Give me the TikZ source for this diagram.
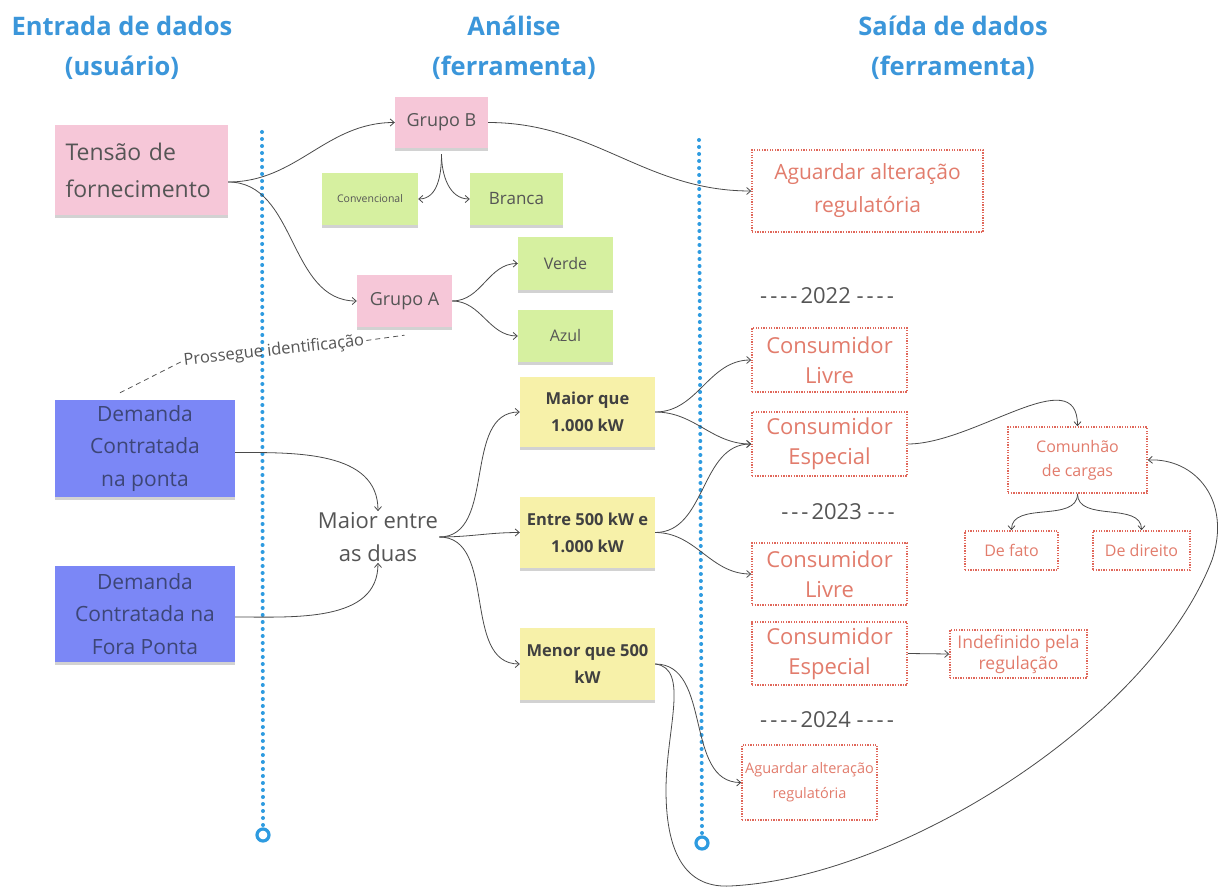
\documentclass[tikz,border=0pt]{standalone}
\usepackage{fontspec}
\setmainfont{Open Sans}
\usetikzlibrary{arrows.meta,shadows}
\definecolor{hdr}{HTML}{3B96DA}
\definecolor{pinkn}{HTML}{F6C7D8}
\definecolor{greenn}{HTML}{D6F0A0}
\definecolor{yellown}{HTML}{F7F1A9}
\definecolor{bluen}{HTML}{7B87F6}
\definecolor{redb}{HTML}{E0675A}
\definecolor{redt}{HTML}{E27C6C}
\definecolor{ink}{HTML}{555555}
\definecolor{bluet}{HTML}{3D4677}
\definecolor{axisc}{HTML}{2E9BE0}
\definecolor{wirec}{HTML}{4A4A4A}
\newcommand\fs[2]{\fontsize{#1}{#2}\selectfont}
\newcommand\hy{\mbox{-}\hspace{3pt}}
\begin{document}
\begin{tikzpicture}[x=1pt,y=-1pt,
  sz/.style 2 args={minimum width=#1pt,minimum height=#2pt},
  note/.style={inner sep=2pt, align=center,
    drop shadow={shadow xshift=0pt, shadow yshift=-3pt, opacity=0.35}},
  pinknote/.style={note, fill=pinkn, text=ink},
  greennote/.style={note, fill=greenn, text=ink},
  yellownote/.style={note, fill=yellown, text=black!75, font=\bfseries\fs{16.5}{27}},
  bluenote/.style={note, fill=bluen, text=bluet, font=\fs{21}{32.5}},
  outbox/.style={draw=redb, line width=1.6pt, dash pattern=on 1.3pt off 1.3pt,
    text=redt, align=center, inner sep=2pt},
  wire/.style={draw=wirec, line width=0.8pt, -{Straight Barb[length=4pt,width=7pt]}},
  axisline/.style={draw=axisc, line width=4pt, line cap=round, dash pattern=on 0pt off 7pt},
  axisend/.style={circle, draw=axisc, line width=3.2pt, fill=white, minimum size=12pt, inner sep=0pt},
  heading/.style={text=hdr, font=\bfseries\fs{25.5}{40}, align=center},
  year/.style={text=ink, font=\fs{22}{26}},
]
\useasboundingbox[fill=white] (0,0) rectangle (1223,890);

% column headings
\node[heading] (h1) at (122,48) {Entrada de dados\\(usuário)};
\node[heading] (h2) at (514,48) {Análise\\(ferramenta)};
\node[heading] (h3) at (953,48) {Saída de dados\\(ferramenta)};

% column separators
\node[axisend] (endL) at (263,835) {};
\node[axisend] (endR) at (702,843) {};
\draw[axisline] (262,132) -- (endL.north);
\draw[axisline] (699,140) -- (endR.north);

% input notes
\node[pinknote, sz={173}{90}, font=\fs{23}{37}, align=left, text width=152pt] (tensao) at (141.5,170) {Tensão de\\fornecimento};
\node[bluenote, sz={180}{97}] (dp) at (145,448.5) {Demanda\\Contratada\\na ponta};
\node[bluenote, sz={180}{96}] (df) at (145,614) {Demanda\\Contratada na\\Fora Ponta};

% analysis notes
\node[pinknote, sz={93}{51}, font=\fs{18}{22}] (gb) at (441.5,122.5) {Grupo B};
\node[greennote, sz={96}{52}, font=\fs{10.5}{12}] (conv) at (370,199) {Convencional};
\node[greennote, sz={93}{52}, font=\fs{17}{20}] (branca) at (516.5,199) {Branca};
\node[pinknote, sz={95}{52}, font=\fs{18}{22}] (ga) at (404.5,301) {Grupo A};
\node[greennote, sz={95}{53}, font=\fs{16}{20}] (verde) at (565.5,263.5) {Verde};
\node[greennote, sz={95}{52}, font=\fs{16}{20}] (azul) at (565.5,336) {Azul};
\node[yellownote, sz={135}{70}] (mq) at (587.5,412) {Maior que\\1.000 kW};
\node[yellownote, sz={135}{71}] (en) at (587.5,532.5) {Entre 500 kW e\\1.000 kW};
\node[yellownote, sz={135}{72}] (mn) at (587.5,664) {Menor que 500\\kW};
\node[text=ink, font=\fs{22}{33}, align=center, inner sep=1pt] (me) at (378,537) {Maior entre\\as duas};
\node[text=ink, font=\fs{16.5}{18}, rotate=6.5, inner sep=2pt] (pros) at (274,351) {Prossegue identificação};

% output boxes
\node[outbox, sz={231}{82}, font=\fs{21}{33}] (ag1) at (867.5,191) {Aguardar alteração\\regulatória};
\node[year] (y22) at (827,296) {\hy\hy\hy\hy 2022 \hy\hy\hy\mbox{-}};
\node[outbox, sz={155}{64}, font=\fs{22}{30}] (cl1) at (829.5,360) {Consumidor\\Livre};
\node[outbox, sz={155}{64}, font=\fs{22}{30}] (ce1) at (829.5,444) {Consumidor\\Especial};
\node[outbox, sz={139}{66}, font=\fs{16}{24}] (com) at (1077.5,460) {Comunhão\\de cargas};
\node[outbox, sz={93}{39}, font=\fs{16}{20}] (fato) at (1011.5,550.5) {De fato};
\node[outbox, sz={97}{39}, font=\fs{16}{20}] (dir) at (1141.5,550.5) {De direito};
\node[year] (y23) at (838,512) {\hy\hy\hy 2023 \hy\hy\mbox{-}};
\node[outbox, sz={155}{62}, font=\fs{22}{30}] (cl2) at (829.5,574) {Consumidor\\Livre};
\node[outbox, sz={155}{63}, font=\fs{22}{30}] (ce2) at (829.5,653.5) {Consumidor\\Especial};
\node[outbox, sz={137}{48}, font=\fs{17.5}{21}] (ind) at (1018.5,654) {Indefinido pela\\regulação};
\node[year] (y24) at (827,720) {\hy\hy\hy\hy 2024 \hy\hy\hy\mbox{-}};
\node[outbox, sz={135}{75}, font=\fs{14.5}{25}] (ag2) at (809.5,782.5) {Aguardar alteração\\regulatória};

% connectors
\draw[wire] ([yshift=-12pt]tensao.east) to[out=0,in=180] (gb.west);
\draw[wire] ([yshift=-12pt]tensao.east) to[out=0,in=180] (ga.west);
\draw[wire] (gb.east) to[out=0,in=180] (ag1.west);
\draw[wire] ([yshift=-6pt]gb.south) to[out=-90,in=0] (conv.east);
\draw[wire] ([yshift=-6pt]gb.south) to[out=-90,in=180] (branca.west);
\draw[wire] (ga.east) to[out=0,in=180] (verde.west);
\draw[wire] (ga.east) to[out=0,in=180] (azul.west);
\draw[ink, line width=0.8pt, dash pattern=on 5pt off 4pt] ([xshift=-25pt,yshift=7pt]dp.north) -- (pros.west);
\draw[ink, line width=0.8pt, dash pattern=on 5pt off 4pt] (pros.east) -- ([yshift=-8pt]ga.south);
\draw[wire] ([yshift=-4pt]dp.east) to[out=0,in=90] (me.north);
\draw[wire] ([yshift=-3pt]df.east) to[out=0,in=-90] (me.south);
\draw[wire] (me.east) to[out=0,in=180] (mq.west);
\draw[wire] (me.east) to[out=0,in=180] (en.west);
\draw[wire] (me.east) to[out=0,in=180] (mn.west);
\draw[wire] (mq.east) to[out=0,in=180] (cl1.west);
\draw[wire] (mq.east) to[out=0,in=180] (ce1.west);
\draw[wire] (en.east) to[out=0,in=180] (ce1.west);
\draw[wire] (en.east) to[out=0,in=180] (cl2.west);
\draw[wire] (mn.east) to[out=0,in=180] (ag2.west);
\draw[wire] (ce1.east) to[out=0,in=90] (com.north);
\draw[wire] (com.south) to[out=-90,in=90] (fato.north);
\draw[wire] (com.south) to[out=-90,in=90] (dir.north);
\draw[wire] (ce2.east) -- (ind.west);
\draw[wire] (mn.east) .. controls (690,668) and (666,730) .. (666,790)
  .. controls (666,860) and (690,888) .. (730,886)
  .. controls (900,878) and (1150,720) .. (1212,560)
  .. controls (1232,500) and (1195,458) .. (com.east);
\end{tikzpicture}
\end{document}
